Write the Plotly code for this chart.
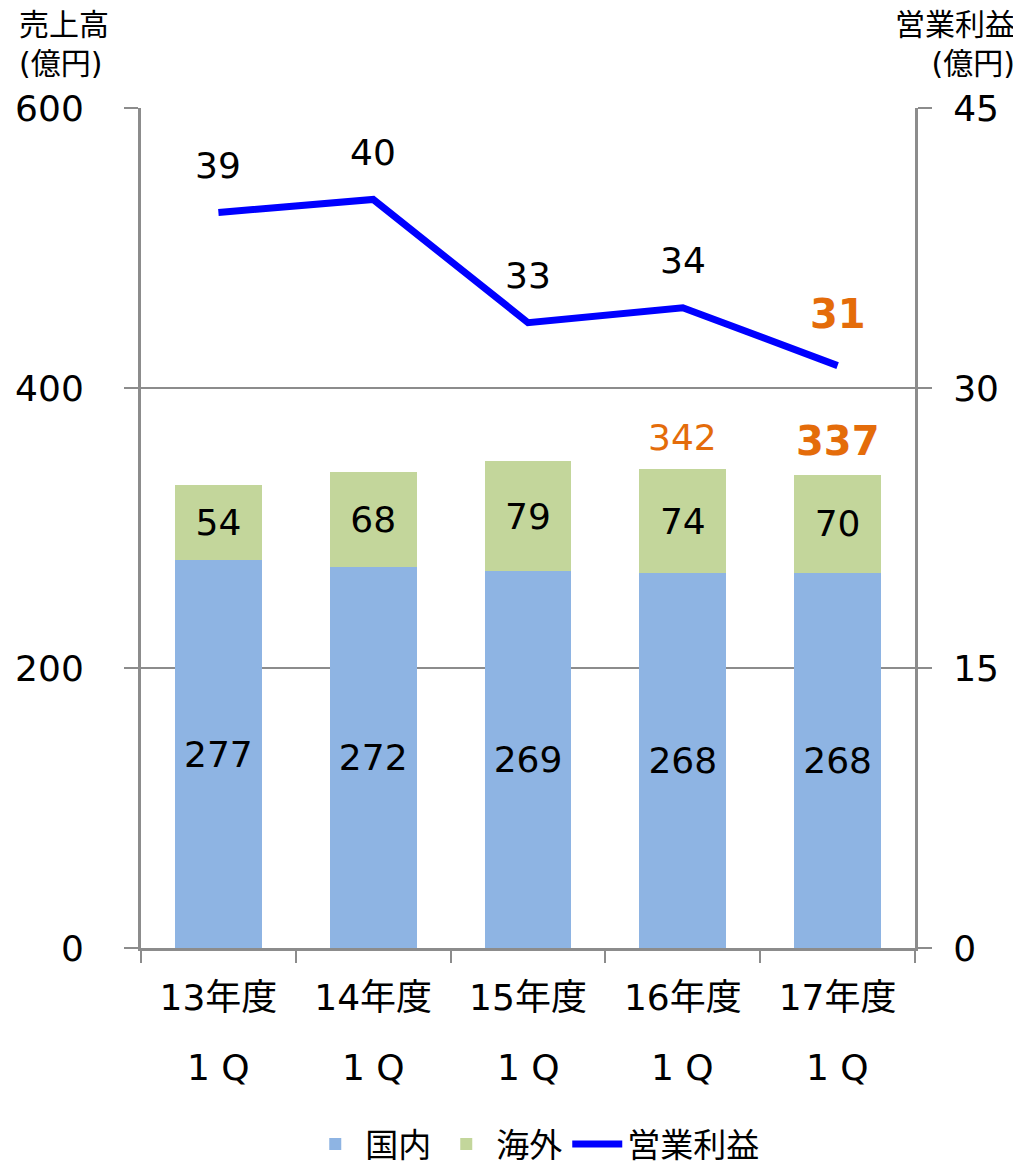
import plotly.graph_objects as go

categories = ["13年度", "14年度", "15年度", "16年度", "17年度"]
quarter_labels = ["1 Q", "1 Q", "1 Q", "1 Q", "1 Q"]
domestic = [277, 272, 269, 268, 268]
overseas = [54, 68, 79, 74, 70]
totals = [331, 340, 348, 342, 337]
total_labels = ["", "", "", "342", "337"]
op_profit = [39.4, 40.1, 33.5, 34.3, 31.2]
op_profit_labels = ["39", "40", "33", "34", "31"]

FONT = "DejaVu Sans, Noto Sans CJK JP, sans-serif"
ORANGE = "#E46C0A"
GRID = "#8C8C8C"

fig = go.Figure()
fig.add_trace(go.Bar(
    x=categories, y=domestic, name="国内", marker_color="#8EB4E3",
    marker_line_width=0, text=[str(v) for v in domestic], textposition="inside",
    insidetextanchor="middle", textfont=dict(size=36, color="black", family=FONT),
    yaxis="y"))
fig.add_trace(go.Bar(
    x=categories, y=overseas, name="海外", marker_color="#C3D69B",
    marker_line_width=0, text=[str(v) for v in overseas], textposition="inside",
    insidetextanchor="middle", textfont=dict(size=36, color="black", family=FONT),
    yaxis="y"))
fig.add_trace(go.Scatter(
    x=categories, y=op_profit, name="営業利益", mode="lines",
    line=dict(color="#0000FF", width=7), yaxis="y2"))

annotations = []
for i, (c, v, t) in enumerate(zip(categories, op_profit, op_profit_labels)):
    last = i == len(categories) - 1
    annotations.append(dict(
        x=c, y=v, xref="x", yref="y2", text=f"<b>{t}</b>" if last else t,
        showarrow=False, yshift=52 if last else 47, yanchor="middle",
        font=dict(size=40 if last else 36, color=ORANGE if last else "black", family=FONT)))
for i, (c, v, t) in enumerate(zip(categories, totals, total_labels)):
    if not t:
        continue
    last = i == len(categories) - 1
    annotations.append(dict(
        x=c, y=v, xref="x", yref="y", text=f"<b>{t}</b>" if last else t,
        showarrow=False, yshift=35 if last else 32, yanchor="middle",
        font=dict(size=40 if last else 36, color=ORANGE, family=FONT)))
for c, q in zip(categories, quarter_labels):
    annotations.append(dict(
        x=c, y=0, xref="x", yref="paper", text=q, showarrow=False,
        yanchor="middle", yshift=-119, font=dict(size=36, color="black", family=FONT)))
annotations.append(dict(
    xref="paper", yref="paper", x=-0.160, y=1.0, yshift=103, xanchor="left", yanchor="top",
    text="売上高<br>(億円)", showarrow=False, align="left",
    font=dict(size=30, color="black", family=FONT)))
annotations.append(dict(
    xref="paper", yref="paper", x=1.1318, y=1.0, yshift=103, xanchor="right", yanchor="top",
    text="営業利益<br>(億円)", showarrow=False, align="right",
    font=dict(size=30, color="black", family=FONT)))

fig.update_layout(
    width=1013, height=1164,
    margin=dict(l=133, r=106, t=100, b=224),
    paper_bgcolor="white", plot_bgcolor="white",
    barmode="stack", bargap=0.44,
    font=dict(family=FONT, size=36, color="black"),
    showlegend=True,
    legend=dict(orientation="h", x=0.52, xanchor="center", xref="container",
                y=0.0, yref="container", yanchor="bottom",
                font=dict(size=33, family=FONT), itemwidth=50, traceorder="normal"),
    xaxis=dict(
        type="category", showline=True, linecolor=GRID, linewidth=3,
        ticks="outside", tickson="boundaries", ticklen=12, tickwidth=2, tickcolor=GRID,
        tickfont=dict(size=36, family=FONT), showgrid=False, automargin=False,
        ticklabelstandoff=16),
    yaxis=dict(
        range=[0, 600], dtick=200, showline=True, linecolor=GRID, linewidth=3,
        ticks="outside", ticklen=14, tickwidth=2, tickcolor=GRID,
        showgrid=True, gridcolor=GRID, gridwidth=1.5, zeroline=False, automargin=False,
        tickfont=dict(size=36, family=FONT), ticklabelstandoff=33),
    yaxis2=dict(
        range=[0, 45], dtick=15, overlaying="y", side="right",
        showline=True, linecolor=GRID, linewidth=3,
        ticks="outside", ticklen=14, tickwidth=2, tickcolor=GRID,
        showgrid=False, zeroline=False, automargin=False,
        tickfont=dict(size=36, family=FONT), ticklabelstandoff=14),
    annotations=annotations,
)

fig.write_html("out.html")
